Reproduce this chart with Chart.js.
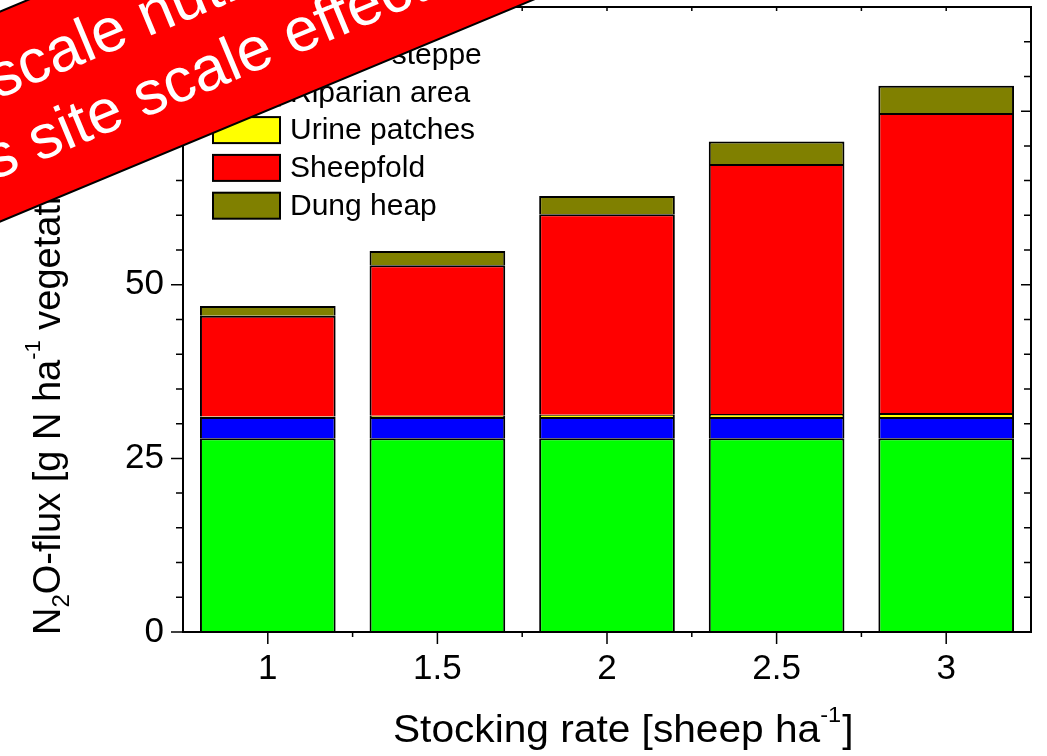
<!DOCTYPE html>
<html>
<head>
<meta charset="utf-8">
<script src="https://cdn.jsdelivr.net/npm/chart.js@4"></script>
<style>
  html, body { margin: 0; padding: 0; background: #fff; }
  #wrap { width: 1047px; height: 756px; }
</style>
</head>
<body>
<div id="wrap"><canvas id="fluxChart" width="1047" height="756"></canvas></div>
<script>
// Datos
const rates = ['1', '1.5', '2', '2.5', '3'];
const seriesNames = ['Typical steppe', 'Riparian area', 'Urine patches', 'Sheepfold', 'Dung heap'];
const steppe = [27.9, 27.9, 27.9, 27.9, 27.9];
const riparian = [3.05, 3.05, 3.05, 3.05, 3.05];
const urine = [0.1, 0.2, 0.35, 0.45, 0.6];
const sheepfold = [14.5, 21.65, 28.85, 36.0, 43.2];
const dungHeap = [1.4, 2.05, 2.65, 3.25, 3.9];
const yLabelTicks = [0, 25, 50, 75];
const bannerLines = ['Plot scale nutrient hotspots', 'vs site scale effects'];

const FONT = 'Arial, "Liberation Sans", sans-serif';
const colors = ['#00ff00', '#0000ff', '#ffff00', '#ff0000', '#808000'];

// Marco, ticks, leyenda, títulos y la banda roja
const decoPlugin = {
  id: 'deco',
  afterDraw(chart) {
    const { ctx, chartArea: a, scales: { x, y } } = chart;
    ctx.save();

    // ticks del eje y (izquierda hacia fuera, derecha hacia dentro)
    ctx.strokeStyle = '#000';
    ctx.lineWidth = 1.5;
    ctx.beginPath();
    y.ticks.forEach(t => {
      const py = y.getPixelForValue(t.value);
      const major = yLabelTicks.includes(t.value);
      ctx.moveTo(a.left, py); ctx.lineTo(a.left - (major ? 12 : 7), py);
      ctx.moveTo(a.right, py); ctx.lineTo(a.right - (major ? 10 : 7), py);
    });
    // ticks del eje x
    const half = (x.getPixelForValue(1) - x.getPixelForValue(0)) / 2;
    rates.forEach((r, i) => {
      const px = x.getPixelForValue(i);
      ctx.moveTo(px, a.bottom); ctx.lineTo(px, a.bottom + 12);
      ctx.moveTo(px, a.top); ctx.lineTo(px, a.top + 4);
      if (i < rates.length - 1) {
        ctx.moveTo(px + half, a.bottom); ctx.lineTo(px + half, a.bottom + 5);
        ctx.moveTo(px + half, a.top); ctx.lineTo(px + half, a.top + 4);
      }
    });
    ctx.stroke();

    ctx.lineWidth = 2;
    ctx.strokeRect(a.left, a.top, a.right - a.left, a.bottom - a.top);

    // leyenda
    ctx.font = '30px ' + FONT;
    ctx.textBaseline = 'middle';
    ctx.textAlign = 'left';
    chart.data.datasets.forEach((ds, i) => {
      const cy = 54.5 + 37.8 * i;
      ctx.fillStyle = ds.backgroundColor;
      ctx.fillRect(213, cy - 13, 67, 26);
      ctx.lineWidth = 2;
      ctx.strokeRect(213, cy - 13, 67, 26);
      ctx.fillStyle = '#000';
      ctx.fillText(ds.label, 290, cy + 1);
    });

    // título eje x
    ctx.textBaseline = 'alphabetic';
    ctx.save();
    ctx.translate(393, 742);
    ctx.scale(1.07, 1);
    let cx = 0;
    ctx.font = '38px ' + FONT;
    ctx.fillText('Stocking rate [sheep ha', cx, 0);
    cx += ctx.measureText('Stocking rate [sheep ha').width;
    ctx.font = '22px ' + FONT;
    ctx.fillText('-1', cx, -20);
    cx += ctx.measureText('-1').width + 1;
    ctx.font = '38px ' + FONT;
    ctx.fillText(']', cx, 0);
    ctx.restore();

    // título eje y
    ctx.save();
    ctx.translate(60, 635);
    ctx.rotate(-Math.PI / 2);
    const parts = [
      ['N', 38, 0], ['2', 24, 9], ['O-flux [g N ha', 38, 0], ['-1', 22, -20],
      [' vegetation period', 38, 0], ['-1', 22, -20], [']', 38, 0]
    ];
    let ux = 0;
    parts.forEach(([txt, size, dy]) => {
      ctx.font = size + 'px ' + FONT;
      ctx.fillText(txt, ux, dy);
      ux += ctx.measureText(txt).width;
    });
    ctx.restore();

    // banda roja superpuesta
    ctx.save();
    ctx.translate(0, 221.7);
    ctx.rotate(-22.6 * Math.PI / 180);
    ctx.fillStyle = '#ff0000';
    ctx.fillRect(-300, -194, 1800, 194);
    ctx.strokeStyle = '#000';
    ctx.lineWidth = 2;
    ctx.beginPath();
    ctx.moveTo(-300, 0); ctx.lineTo(1500, 0);
    ctx.moveTo(-300, -194); ctx.lineTo(1500, -194);
    ctx.stroke();
    ctx.fillStyle = '#fff';
    ctx.font = '62px ' + FONT;
    ctx.fillText(bannerLines[0], 45 - ctx.measureText('Plot ').width, -114);
    ctx.fillText(bannerLines[1], 10 - ctx.measureText('v').width, -40.5);
    ctx.restore();

    ctx.restore();
  }
};

const seriesData = [steppe, riparian, urine, sheepfold, dungHeap];

new Chart(document.getElementById('fluxChart'), {
  type: 'bar',
  data: {
    labels: rates,
    datasets: seriesData.map((vals, i) => ({
      label: seriesNames[i],
      data: vals,
      backgroundColor: colors[i],
      borderColor: '#000',
      borderWidth: 2,
      barPercentage: 0.8,
      categoryPercentage: 1.0
    }))
  },
  options: {
    responsive: false,
    animation: false,
    layout: { padding: { top: 7, right: 16, left: 0, bottom: 0 } },
    plugins: {
      legend: { display: false },
      tooltip: { enabled: false }
    },
    scales: {
      x: {
        stacked: true,
        grid: { display: false, drawTicks: false },
        border: { display: false },
        ticks: { color: '#000', font: { family: FONT, size: 35 }, padding: 16, maxRotation: 0 },
        afterFit: s => { s.height = 124; s.paddingLeft = 0; s.paddingRight = 0; }
      },
      y: {
        stacked: true,
        min: 0,
        max: 90,
        grid: { display: false, drawTicks: false },
        border: { display: false },
        ticks: {
          stepSize: 5,
          autoSkip: false,
          color: '#000',
          font: { family: FONT, size: 35 },
          padding: 19,
          callback: v => yLabelTicks.includes(v) ? v : ''
        },
        afterFit: s => { s.width = 183; s.paddingTop = 0; s.paddingBottom = 0; }
      }
    }
  },
  plugins: [decoPlugin]
});
</script>
</body>
</html>
